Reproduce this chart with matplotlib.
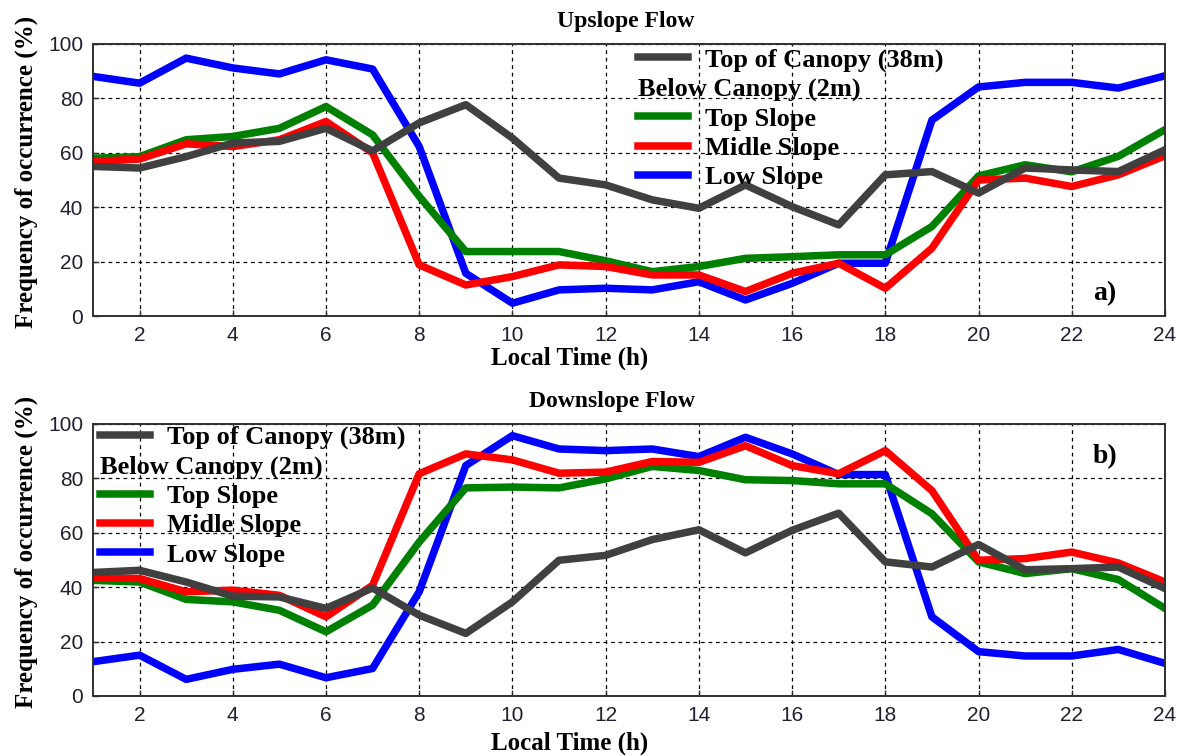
import matplotlib
matplotlib.use("Agg")
import matplotlib.pyplot as plt

hours = list(range(1, 25))

# Upslope flow, frequency of occurrence (%)
up_canopy = [55, 54.4, 58.6, 63.6, 64.2, 69, 60.7, 71, 77.7, 65.4, 50.7, 48.2,
             42.7, 39.6, 48.2, 40.2, 33.5, 51.9, 53.1, 45.2, 54.4, 53.7, 53.1, 61.1]
up_top = [58, 58.6, 64.8, 66, 69, 77, 66.6, 44, 23.7, 23.7, 23.7, 20.3,
          16.3, 18.2, 21.2, 21.8, 22.5, 22.5, 32.9, 51.5, 55.6, 53, 58.7, 68.5]
up_mid = [56.8, 57.7, 63.3, 62.3, 64.8, 71.5, 60, 18.8, 11.4, 14.5, 18.8, 18.2,
          15.1, 15.1, 9, 15.7, 19.4, 10.2, 24.9, 50, 50.7, 47.6, 51.9, 58.9]
up_low = [88.1, 85.6, 94.8, 91.2, 89, 94.2, 90.8, 62.3, 15.7, 4.7, 9.6, 10.2,
          9.6, 12.6, 5.9, 12, 19.4, 19.4, 72, 84.2, 85.9, 85.9, 83.8, 88.3]

# Downslope flow, frequency of occurrence (%)
down_canopy = [45.4, 46.2, 41.9, 36.7, 36.4, 32.2, 39.7, 29.7, 23, 34.6, 49.9, 51.7,
               57.5, 61.1, 52.6, 60.9, 67.2, 49.3, 47.4, 55.7, 46.4, 46.8, 47.4, 39.5]
down_top = [42.5, 41.9, 35.5, 34.6, 31.5, 23.6, 33.4, 56.6, 76.5, 76.8, 76.5, 79.8,
            84.4, 82.9, 79.5, 79.2, 78, 78, 67, 49.3, 45, 46.8, 42.8, 32.2]
down_mid = [43.5, 43.2, 38.3, 38.9, 37, 29.1, 40.7, 81.7, 89, 86.8, 81.9, 82.3,
            86.2, 85.9, 92, 84.7, 81.7, 90.2, 75.5, 49.9, 50.5, 52.9, 48.9, 41.9]
down_low = [12.6, 15, 6.1, 9.8, 11.7, 6.7, 10.1, 38.3, 84.7, 95.7, 90.8, 90.2,
            90.8, 88, 95.1, 89, 81.4, 81.4, 29.1, 16.3, 14.7, 14.7, 17.1, 12]

serif = "Liberation Serif"
sans = "Liberation Sans"
lw = 5.4
leg_size = 19

fig = plt.figure(figsize=(11.84, 7.56), dpi=100)
ax1 = fig.add_axes([0.0785, 0.582, 0.9054, 0.3598])
ax2 = fig.add_axes([0.0785, 0.0794, 0.9054, 0.3598])


def draw_panel(ax, canopy, top, mid, low, title, title_x, tag, tag_y, leg_x, leg_y, xpad):
    l_low, = ax.plot(hours, low, color="#0000ff", lw=lw, label="Low Slope")
    l_top, = ax.plot(hours, top, color="#008000", lw=lw, label="Top Slope")
    l_mid, = ax.plot(hours, mid, color="#ff0000", lw=lw, label="Midle Slope")
    l_can, = ax.plot(hours, canopy, color="#404040", lw=lw, label="Top of Canopy (38m)")
    blank, = ax.plot([], [], color="none", label=" ")

    ax.set_xlim(1, 24)
    ax.set_ylim(0, 100)
    ax.set_xticks(range(2, 25, 2))
    ax.set_yticks(range(0, 101, 20))
    ax.grid(True, color="black", linestyle=(0, (3, 3)), linewidth=0.9)
    ax.tick_params(direction="in", length=4, width=1, pad=7, labelsize=15,
                   colors="#303030", labelcolor="#202030")
    for lab in ax.get_xticklabels() + ax.get_yticklabels():
        lab.set_family(sans)
    for sp in ax.spines.values():
        sp.set_color("#303030")
        sp.set_linewidth(1.4)

    ax.set_title(title, family=serif, weight="bold", fontsize=17, pad=12, x=title_x)
    ax.set_xlabel("Local Time (h)", family=serif, weight="bold", fontsize=18,
                  labelpad=xpad, x=0.445)
    ax.set_ylabel("Frequency of occurrence (%)", family=serif, weight="bold",
                  fontsize=18, labelpad=7, y=0.53)
    ax.text(0.944, tag_y, tag, transform=ax.transAxes, family=serif,
            weight="bold", fontsize=20, ha="center", va="center")

    leg = ax.legend([l_can, blank, l_top, l_mid, l_low],
                    ["Top of Canopy (38m)", " ", "Top Slope", "Midle Slope", "Low Slope"],
                    loc="upper left", bbox_to_anchor=(leg_x, leg_y), frameon=False,
                    borderpad=0, borderaxespad=0, handlelength=1.9,
                    handletextpad=0.65, labelspacing=0.22,
                    prop={"family": serif, "weight": "bold", "size": leg_size})
    return leg


leg1 = draw_panel(ax1, up_canopy, up_top, up_mid, up_low, "Upslope Flow", 0.497,
                  "a)", 0.081, 0.508, 0.985, 1)
leg2 = draw_panel(ax2, down_canopy, down_top, down_mid, down_low, "Downslope Flow", 0.484,
                  "b)", 0.88, 0.0065, 0.994, 5)

# the "Below Canopy (2m)" heading sits in the blank legend row, starting at the handle column
fig.canvas.draw()
renderer = fig.canvas.get_renderer()
W, H = fig.bbox.width, fig.bbox.height
for leg in (leg1, leg2):
    row = leg.get_texts()[1].get_window_extent(renderer)
    handle = leg.legend_handles[0].get_window_extent(renderer)
    fig.text(handle.x0 / W, (row.y0 + row.y1) / 2 / H, "Below Canopy (2m)",
             family=serif, weight="bold", fontsize=leg_size, ha="left", va="center")

fig.savefig("out.png", dpi=100)
